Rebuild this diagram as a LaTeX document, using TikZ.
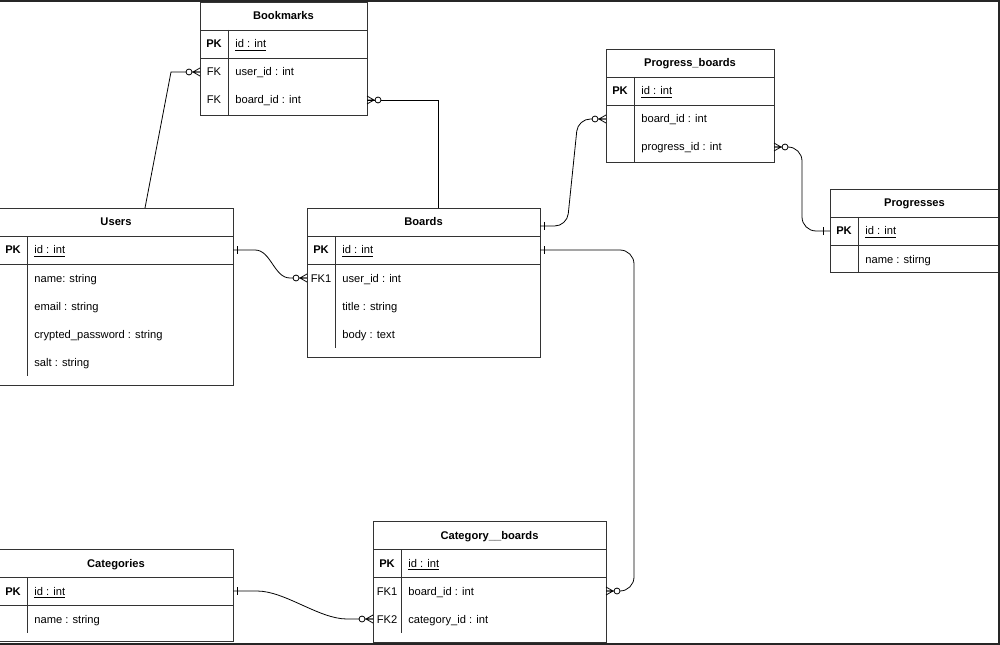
\documentclass[tikz,border=0pt]{standalone}
\usepackage{fontspec}
\setmainfont{Liberation Sans}
\usetikzlibrary{calc}
\newcommand\tfont{\fontsize{6.35pt}{7.5pt}\selectfont}
\tikzset{
  tbl/.style={draw=black!80, line width=0.5pt, inner sep=0pt, outer sep=0pt, anchor=north west},
  ttl/.style={font=\tfont\bfseries, inner sep=0pt, anchor=base},
  keyt/.style={font=\tfont, inner sep=0pt, anchor=base},
  pkt/.style={font=\tfont\bfseries, inner sep=0pt, anchor=base},
  fld/.style={font=\tfont, inner sep=0pt, anchor=base west},
  sep/.style={draw=black!80, line width=0.5pt},
  conn/.style={draw=black, line width=0.45pt},
  zmany/.pic={
    \draw[line width=0.45pt] (0,-4) -- (7,0) -- (0,4) (0,0) -- (7,0);
    \draw[line width=0.45pt, fill=white] (11,0) circle[radius=1.7pt];
  },
  one/.pic={\draw[line width=0.45pt] (4,-4) -- (4,4);},
  onefar/.pic={\draw[line width=0.45pt] (7,-4) -- (7,4);},
}
\newcommand\ertab[7]{%
  \node[tbl, minimum width=#4*0.02cm, minimum height=#5*0.02cm] (#1) at (#2,#3) {};
  \node[ttl] (#1-title) at ($(#1.north west)+(#4/2,18)$) {#6};
  \draw[sep] ($(#1.north west)+(0,28)$) -- +(#4,0);
  \draw[sep] ($(#1.north west)+(0,56)$) -- +(#4,0);
  \draw[sep] ($(#1.north west)+(28,28)$) -- +(0,#7);
  \coordinate (#1-r0) at ($(#1.north west)+(0,42)$);
  \node[pkt] (#1-pk) at ($(#1.north west)+(14,46)$) {PK};
  \node[fld] (#1-id) at ($(#1.north west)+(35,46)$) {\underline{id : int}};
}
\newcommand\erfield[4]{%
  \coordinate (#1-r#2) at ($(#1.north west)+(0,{42+28*#2})$);
  \if\relax\detokenize{#3}\relax\else
    \node[keyt] (#1-k#2) at ($(#1.north west)+(14,{46+28*#2})$) {#3};
  \fi
  \node[fld] (#1-f#2) at ($(#1.north west)+(35,{46+28*#2})$) {#4};
}
\begin{document}
\begin{tikzpicture}[x=0.02cm, y=-0.02cm]
\useasboundingbox (0,0) rectangle (1000,645);
\fill[white] (0,0) rectangle (1000,645);

% tables
\ertab{bk}{200}{2}{167}{113}{Bookmarks}{85}
\erfield{bk}{1}{FK}{user\_id : int}
\erfield{bk}{2}{FK}{board\_id : int}

\ertab{pb}{606}{49}{168}{113}{Progress\_boards}{85}
\erfield{pb}{1}{}{board\_id : int}
\erfield{pb}{2}{}{progress\_id : int}

\ertab{us}{-1}{208}{234}{177}{Users}{140}
\erfield{us}{1}{}{name: string}
\erfield{us}{2}{}{email : string}
\erfield{us}{3}{}{crypted\_password : string}
\erfield{us}{4}{}{salt : string}

\ertab{bd}{307}{208}{233}{149}{Boards}{112}
\erfield{bd}{1}{FK1}{user\_id : int}
\erfield{bd}{2}{}{title : string}
\erfield{bd}{3}{}{body : text}

\ertab{pr}{830}{189}{169}{83}{Progresses}{55}
\erfield{pr}{1}{}{name : stirng}

\ertab{ct}{-1}{549}{234}{92}{Categories}{56}
\erfield{ct}{1}{}{name : string}

\ertab{cb}{373}{521}{233}{121}{Category\_\_boards}{84}
\erfield{cb}{1}{FK1}{board\_id : int}
\erfield{cb}{2}{FK2}{category\_id : int}

% connectors
\coordinate (us-top) at ($(us.north west)+(146,0)$);
\coordinate (c1-bend) at ($(bk.west |- bk-r1)+(-29,0)$);
\draw[conn] (us-top) -- (c1-bend) -- (bk.west |- bk-r1);

\coordinate (bd-top) at ($(bd.north west)+(131,0)$);
\draw[conn] (bd-top) |- (bk.east |- bk-r2);

\coordinate (c3a) at ($(us.east |- us-r0)+(22,0)$);
\coordinate (c3b) at ($(bd.west |- bd-r1)+(-17,0)$);
\draw[conn] (us.east |- us-r0) -- (c3a) .. controls ($(c3a)+(16,0)$) and ($(c3b)+(-16,0)$) .. (c3b) -- (bd.west |- bd-r1);

\coordinate (bd-r) at ($(bd.north east)+(0,18)$);
\draw[conn, rounded corners=7] (bd-r) -- ($(bd-r)+(27,0)$) -- ($(pb.west |- pb-r1)+(-28,0)$) -- (pb.west |- pb-r1);

\draw[conn, rounded corners=8] (pb.east |- pb-r2) -- ($(pb.east |- pb-r2)+(28,0)$) |- (pr.west |- pr-r0);

\draw[conn, rounded corners=8] (bd.east |- bd-r0) -- ($(bd.east |- bd-r0)+(94,0)$) |- (cb.east |- cb-r1);

\coordinate (c7a) at ($(ct.east |- ct-r0)+(24,0)$);
\coordinate (c7b) at ($(cb.west |- cb-r2)+(-26,0)$);
\draw[conn] (ct.east |- ct-r0) -- (c7a) .. controls ($(c7a)+(28,0)$) and ($(c7b)+(-28,0)$) .. (c7b) -- (cb.west |- cb-r2);

% end marks
\pic[rotate=180] at (bk.west |- bk-r1) {zmany};
\pic at (bk.east |- bk-r2) {zmany};
\pic at (us.east |- us-r0) {one};
\pic[rotate=180] at (bd.west |- bd-r1) {zmany};
\pic at (bd-r) {one};
\pic[rotate=180] at (pb.west |- pb-r1) {zmany};
\pic at (pb.east |- pb-r2) {zmany};
\pic[rotate=180] at (pr.west |- pr-r0) {onefar};
\pic at (bd.east |- bd-r0) {one};
\pic at (cb.east |- cb-r1) {zmany};
\pic at (ct.east |- ct-r0) {one};
\pic[rotate=180] at (cb.west |- cb-r2) {zmany};

% window frame
\draw[line width=1.1pt, black!85] (0,1) -- (999,1) -- (999,644) -- (0,644);
\end{tikzpicture}
\end{document}
